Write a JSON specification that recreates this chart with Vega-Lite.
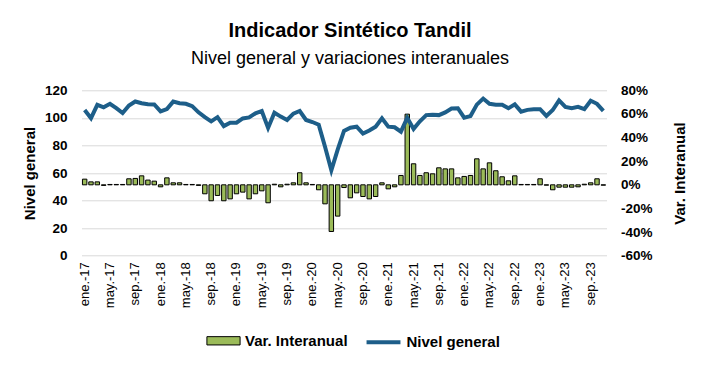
{
  "$schema": "https://vega.github.io/schema/vega-lite/v6.json",
  "width": 525,
  "height": 165.4,
  "autosize": {"type": "none"},
  "padding": {"left": 81.5, "top": 90.3, "right": 95.5, "bottom": 112.3},
  "title": {
    "text": "Indicador Sintético Tandil",
    "subtitle": "Nivel general y variaciones interanuales",
    "font": "Liberation Sans",
    "subtitleFont": "Liberation Sans",
    "fontSize": 20,
    "fontWeight": "bold",
    "subtitleFontSize": 18,
    "color": "#000000",
    "subtitleColor": "#000000",
    "anchor": "middle",
    "offset": 15,
    "subtitlePadding": 9,
    "dx": 6
  },
  "config": {
    "view": {"stroke": null},
    "font": "Liberation Sans"
  },
  "data": {
    "values": [
      {"mes": "ene.-17", "nivel": 105.7, "var": 4.8},
      {"mes": "feb.-17", "nivel": 99.8, "var": 2.5},
      {"mes": "mar.-17", "nivel": 109.5, "var": 2.5},
      {"mes": "abr.-17", "nivel": 107.7, "var": -0.5},
      {"mes": "may.-17", "nivel": 110.2, "var": 0.3},
      {"mes": "jun.-17", "nivel": 107.0, "var": 0.3},
      {"mes": "jul.-17", "nivel": 103.5, "var": 0.3},
      {"mes": "ago.-17", "nivel": 109.0, "var": 5.1},
      {"mes": "sep.-17", "nivel": 111.9, "var": 5.4},
      {"mes": "oct.-17", "nivel": 110.6, "var": 7.6},
      {"mes": "nov.-17", "nivel": 109.9, "var": 4.0},
      {"mes": "dic.-17", "nivel": 109.7, "var": 3.1},
      {"mes": "ene.-18", "nivel": 104.7, "var": -1.7},
      {"mes": "feb.-18", "nivel": 106.4, "var": 5.9},
      {"mes": "mar.-18", "nivel": 111.8, "var": 1.7},
      {"mes": "abr.-18", "nivel": 110.6, "var": 1.7},
      {"mes": "may.-18", "nivel": 110.2, "var": 0.3},
      {"mes": "jun.-18", "nivel": 108.5, "var": 0.3},
      {"mes": "jul.-18", "nivel": 104.0, "var": -0.5},
      {"mes": "ago.-18", "nivel": 100.5, "var": -7.6},
      {"mes": "sep.-18", "nivel": 97.5, "var": -13.5},
      {"mes": "oct.-18", "nivel": 100.5, "var": -9.0},
      {"mes": "nov.-18", "nivel": 94.0, "var": -13.5},
      {"mes": "dic.-18", "nivel": 96.4, "var": -11.9},
      {"mes": "ene.-19", "nivel": 96.5, "var": -7.6},
      {"mes": "feb.-19", "nivel": 99.6, "var": -6.2},
      {"mes": "mar.-19", "nivel": 100.3, "var": -11.9},
      {"mes": "abr.-19", "nivel": 103.3, "var": -7.6},
      {"mes": "may.-19", "nivel": 105.0, "var": -5.1},
      {"mes": "jun.-19", "nivel": 92.7, "var": -15.2},
      {"mes": "jul.-19", "nivel": 103.7, "var": 0.5},
      {"mes": "ago.-19", "nivel": 100.9, "var": -1.7},
      {"mes": "sep.-19", "nivel": 98.5, "var": 0.5},
      {"mes": "oct.-19", "nivel": 103.1, "var": 1.7},
      {"mes": "nov.-19", "nivel": 105.0, "var": 10.2},
      {"mes": "dic.-19", "nivel": 98.5, "var": 1.7},
      {"mes": "ene.-20", "nivel": 97.0, "var": 0.3},
      {"mes": "feb.-20", "nivel": 95.0, "var": -4.2},
      {"mes": "mar.-20", "nivel": 79.0, "var": -16.1},
      {"mes": "abr.-20", "nivel": 62.0, "var": -39.5},
      {"mes": "may.-20", "nivel": 77.0, "var": -26.5},
      {"mes": "jun.-20", "nivel": 90.5, "var": -2.3},
      {"mes": "jul.-20", "nivel": 92.8, "var": -11.0},
      {"mes": "ago.-20", "nivel": 93.6, "var": -6.8},
      {"mes": "sep.-20", "nivel": 88.6, "var": -9.9},
      {"mes": "oct.-20", "nivel": 90.8, "var": -11.9},
      {"mes": "nov.-20", "nivel": 93.6, "var": -9.9},
      {"mes": "dic.-20", "nivel": 99.7, "var": 1.7},
      {"mes": "ene.-21", "nivel": 93.6, "var": -3.4},
      {"mes": "feb.-21", "nivel": 93.2, "var": -1.7},
      {"mes": "mar.-21", "nivel": 90.0, "var": 7.9},
      {"mes": "abr.-21", "nivel": 100.0, "var": 59.8},
      {"mes": "may.-21", "nivel": 92.0, "var": 17.8},
      {"mes": "jun.-21", "nivel": 97.5, "var": 7.9},
      {"mes": "jul.-21", "nivel": 102.0, "var": 10.2},
      {"mes": "ago.-21", "nivel": 102.2, "var": 9.3},
      {"mes": "sep.-21", "nivel": 102.0, "var": 14.4},
      {"mes": "oct.-21", "nivel": 104.0, "var": 13.5},
      {"mes": "nov.-21", "nivel": 106.8, "var": 13.5},
      {"mes": "dic.-21", "nivel": 107.0, "var": 5.9},
      {"mes": "ene.-22", "nivel": 100.1, "var": 7.1},
      {"mes": "feb.-22", "nivel": 101.3, "var": 7.9},
      {"mes": "mar.-22", "nivel": 109.6, "var": 22.0},
      {"mes": "abr.-22", "nivel": 114.0, "var": 13.5},
      {"mes": "may.-22", "nivel": 110.2, "var": 18.6},
      {"mes": "jun.-22", "nivel": 109.6, "var": 11.9},
      {"mes": "jul.-22", "nivel": 109.6, "var": 6.8},
      {"mes": "ago.-22", "nivel": 107.0, "var": 3.4},
      {"mes": "sep.-22", "nivel": 109.8, "var": 7.6},
      {"mes": "oct.-22", "nivel": 104.5, "var": 0.3},
      {"mes": "nov.-22", "nivel": 105.8, "var": 0.3},
      {"mes": "dic.-22", "nivel": 106.3, "var": 0.3},
      {"mes": "ene.-23", "nivel": 106.3, "var": 5.1},
      {"mes": "feb.-23", "nivel": 101.4, "var": -0.3},
      {"mes": "mar.-23", "nivel": 105.7, "var": -4.2},
      {"mes": "abr.-23", "nivel": 112.7, "var": -2.0},
      {"mes": "may.-23", "nivel": 108.0, "var": -2.0},
      {"mes": "jun.-23", "nivel": 107.0, "var": -2.0},
      {"mes": "jul.-23", "nivel": 108.0, "var": -1.7},
      {"mes": "ago.-23", "nivel": 106.3, "var": 0.5},
      {"mes": "sep.-23", "nivel": 112.4, "var": 1.7},
      {"mes": "oct.-23", "nivel": 110.2, "var": 5.1},
      {"mes": "nov.-23", "nivel": 105.1, "var": -0.3}
    ]
  },
  "layer": [
    {
      "mark": {"type": "bar", "stroke": "#000000", "strokeWidth": 1},
      "encoding": {
        "x": {
          "field": "mes",
          "type": "ordinal",
          "sort": null,
          "scale": {"paddingInner": 0.3, "paddingOuter": 0.15},
          "axis": {
            "title": null,
            "values": ["ene.-17", "may.-17", "sep.-17", "ene.-18", "may.-18", "sep.-18", "ene.-19", "may.-19", "sep.-19", "ene.-20", "may.-20", "sep.-20", "ene.-21", "may.-21", "sep.-21", "ene.-22", "may.-22", "sep.-22", "ene.-23", "may.-23", "sep.-23"],
            "labelAngle": -90,
            "labelFontSize": 13,
            "labelColor": "#000000",
            "labelPadding": 6,
            "ticks": false,
            "domain": false,
            "grid": false
          }
        },
        "y": {
          "field": "var",
          "type": "quantitative",
          "scale": {"domain": [-60, 80], "nice": false},
          "axis": {
            "orient": "right",
            "title": "Var. Interanual",
            "titleAngle": 270,
            "values": [-60, -40, -20, 0, 20, 40, 60, 80],
            "labelExpr": "datum.value + '%'",
            "grid": false,
            "domain": false,
            "ticks": false,
            "labelFontSize": 13.5,
            "labelFontWeight": "bold",
            "labelColor": "#000000",
            "labelPadding": 14,
            "titleFontSize": 15,
            "titleFontWeight": "bold",
            "titleColor": "#000000",
            "titlePadding": 35
          }
        },
        "fill": {
          "datum": "Var. Interanual",
          "scale": {"range": ["#9BBB59"]},
          "legend": {
            "title": null,
            "orient": "none",
            "legendX": 124.5,
            "legendY": 233,
            "direction": "horizontal",
            "symbolType": "M-1,-0.25H1V0.25H-1Z",
            "symbolSize": 1100,
            "symbolStrokeColor": "#000000",
            "symbolStrokeWidth": 1,
            "labelFontSize": 15,
            "labelFontWeight": "bold",
            "labelColor": "#000000"
          }
        }
      }
    },
    {
      "mark": {"type": "line", "strokeWidth": 4},
      "encoding": {
        "x": {"field": "mes", "type": "ordinal", "sort": null},
        "y": {
          "field": "nivel",
          "type": "quantitative",
          "scale": {"domain": [0, 120], "nice": false},
          "axis": {
            "orient": "left",
            "title": "Nivel general",
            "values": [0, 20, 40, 60, 80, 100, 120],
            "grid": true,
            "gridColor": "#D9D9D9",
            "gridWidth": 1,
            "domain": false,
            "ticks": false,
            "labelFontSize": 13.5,
            "labelFontWeight": "bold",
            "labelColor": "#000000",
            "labelPadding": 14.5,
            "titleFontSize": 15,
            "titleFontWeight": "bold",
            "titleColor": "#000000",
            "titlePadding": 7
          }
        },
        "stroke": {
          "datum": "Nivel general",
          "scale": {"range": ["#1D5E89"]},
          "legend": {
            "title": null,
            "orient": "none",
            "legendX": 283,
            "legendY": 233,
            "direction": "horizontal",
            "symbolType": "stroke",
            "symbolSize": 1150,
            "symbolStrokeWidth": 4,
            "labelFontSize": 15,
            "labelFontWeight": "bold",
            "labelColor": "#000000"
          }
        }
      }
    }
  ],
  "resolve": {"scale": {"y": "independent"}}
}
